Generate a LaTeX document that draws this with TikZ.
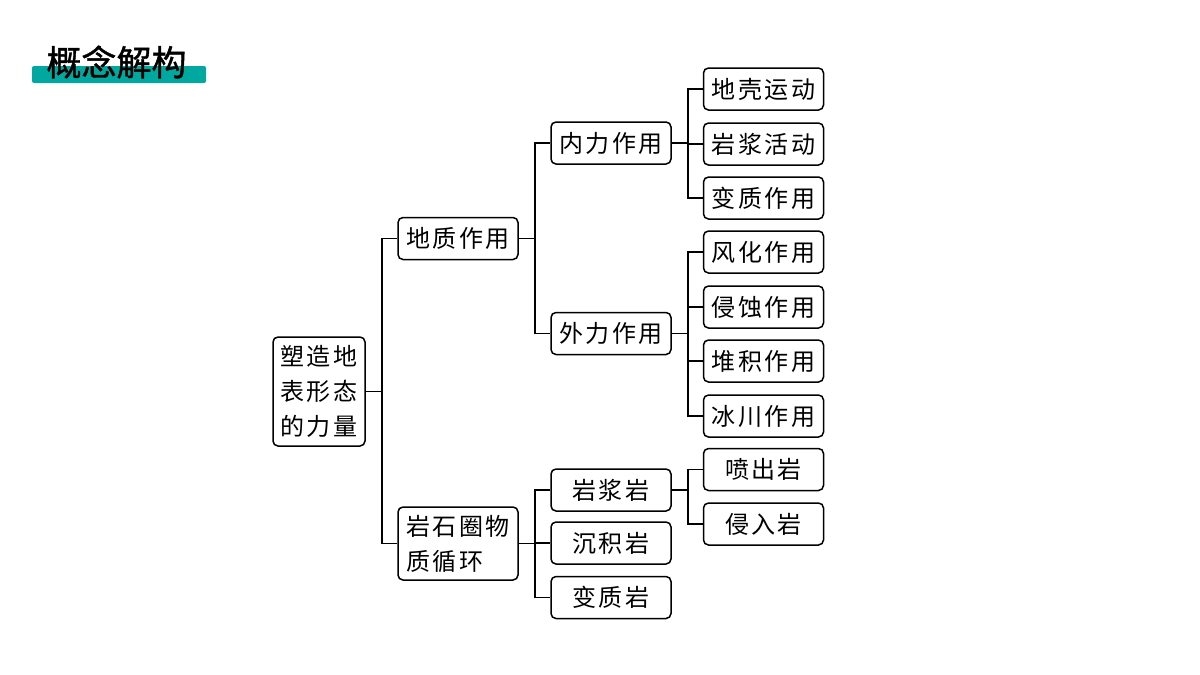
\documentclass[tikz,border=0pt]{standalone}
\usepackage{fontspec}
\newfontfamily\cjk[LetterSpace=10]{Noto Sans CJK SC}
\newfontfamily\cjktitle[FakeBold=1.2]{Noto Sans CJK SC}
\definecolor{titleteal}{RGB}{0,168,160}
\tikzset{
	box/.style={draw=black, line width=1.5pt, rounded corners=5pt, minimum width=120pt, minimum height=42pt, inner sep=2pt, font=\cjk\fontsize{24}{35}\selectfont},
	link/.style={draw=black, line width=1.5pt},
}
\begin{document}
\begin{tikzpicture}[x=1pt, y=-1pt]
	
	\useasboundingbox (0,0) rectangle (1200,675);
	
	% title
	\fill[titleteal, rounded corners=2pt] (32,66) rectangle (206,83);
	\node[font=\cjktitle\fontsize{35}{35}\selectfont, inner sep=0pt] (title) at (116.5,62) {概念解构};
	
	\node[box, minimum width=92pt, minimum height=109pt, align=center] (root) at (319, 391.5) {塑造地\\表形态\\的力量};
	
	\node[box] (dz) at (458, 238.5) {地质作用};
	\node[box, minimum height=73pt, align=left] (yx) at (458, 543.5) {岩石圈物\\质循环};
	
	\node[box] (nl) at (611, 143)   {内力作用};
	\node[box] (wl) at (611, 333.5) {外力作用};
	\node[box] (yj) at (611, 490)   {岩浆岩};
	\node[box] (cj) at (611, 543)   {沉积岩};
	\node[box] (bz) at (611, 597.5) {变质岩};
	
	\node[box] (dk) at (763.5, 89)    {地壳运动};
	\node[box] (yh) at (763.5, 144)   {岩浆活动};
	\node[box] (bx) at (763.5, 198)   {变质作用};
	\node[box] (fh) at (763.5, 252)   {风化作用};
	\node[box] (qs) at (763.5, 307)   {侵蚀作用};
	\node[box] (dj) at (763.5, 361)   {堆积作用};
	\node[box] (bc) at (763.5, 416)   {冰川作用};
	\node[box] (pc) at (763.5, 469.5) {喷出岩};
	\node[box] (qr) at (763.5, 524)   {侵入岩};
	
	\path[link] (root.east) -- ++(16,0) |- (dz.west);
	\path[link] (root.east) -- ++(16,0) |- (yx.west);
	
	\path[link] (dz.east) -- ++(16,0) |- (nl.west);
	\path[link] (dz.east) -- ++(16,0) |- (wl.west);
	\path[link] (yx.east) -- ++(16,0) |- (yj.west);
	\path[link] (yx.east) -- ++(16,0) |- (cj.west);
	\path[link] (yx.east) -- ++(16,0) |- (bz.west);
	
	\path[link] (nl.east) -- ++(16,0) |- (dk.west);
	\path[link] (nl.east) -- ++(16,0) |- (yh.west);
	\path[link] (nl.east) -- ++(16,0) |- (bx.west);
	\path[link] (wl.east) -- ++(16,0) |- (fh.west);
	\path[link] (wl.east) -- ++(16,0) |- (qs.west);
	\path[link] (wl.east) -- ++(16,0) |- (dj.west);
	\path[link] (wl.east) -- ++(16,0) |- (bc.west);
	\path[link] (yj.east) -- ++(16,0) |- (pc.west);
	\path[link] (yj.east) -- ++(16,0) |- (qr.west);
	
\end{tikzpicture}
\end{document}
